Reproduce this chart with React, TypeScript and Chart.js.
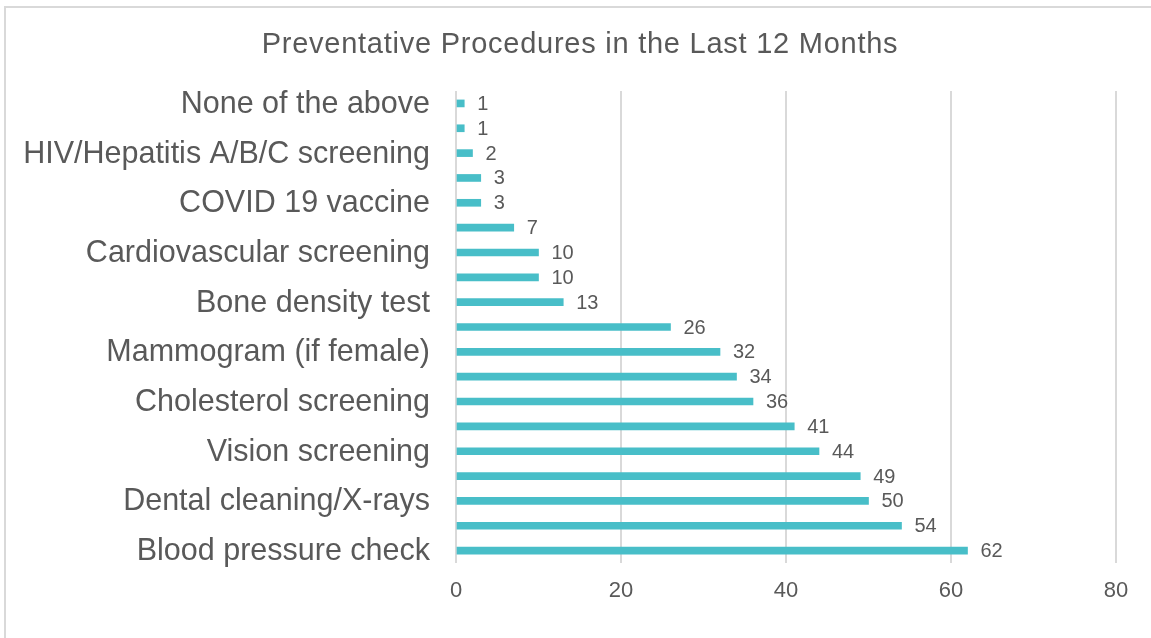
import React, { useEffect, useRef } from "react";
import { Chart, registerables } from "chart.js";

Chart.register(...registerables);

const title = "Preventative Procedures in the Last 12 Months";
const categories = [
  "None of the above",
  "",
  "HIV/Hepatitis A/B/C screening",
  "",
  "COVID 19 vaccine",
  "",
  "Cardiovascular screening",
  "",
  "Bone density test",
  "",
  "Mammogram (if female)",
  "",
  "Cholesterol screening",
  "",
  "Vision screening",
  "",
  "Dental cleaning/X-rays",
  "",
  "Blood pressure check",
];
const values = [1, 1, 2, 3, 3, 7, 10, 10, 13, 26, 32, 34, 36, 41, 44, 49, 50, 54, 62];
const xTicks = [0, 20, 40, 60, 80];

const FONT = "'Liberation Sans', Arial, sans-serif";
const TEXT = "#595959";
const GRID = "#d9d9d9";
const BAR = "#48bec8";

const framePlugin = {
  id: "frame",
  beforeDraw(chart: any) {
    const ctx = chart.ctx;
    ctx.save();
    ctx.fillStyle = "#ffffff";
    ctx.fillRect(0, 0, chart.width, chart.height);
    ctx.strokeStyle = GRID;
    ctx.lineWidth = 2;
    ctx.beginPath();
    ctx.moveTo(5, chart.height + 10);
    ctx.lineTo(5, 7);
    ctx.lineTo(chart.width + 10, 7);
    ctx.stroke();
    ctx.restore();
  },
  afterDraw(chart: any) {
    const ctx = chart.ctx;
    ctx.save();
    ctx.fillStyle = TEXT;
    ctx.font = `29px ${FONT}`;
    ctx.textAlign = "center";
    ctx.textBaseline = "middle";
    try { (ctx as any).letterSpacing = "0.75px"; } catch (e) {}
    ctx.fillText(title, 580, 45);
    try { (ctx as any).letterSpacing = "0px"; } catch (e) {}
    ctx.restore();
  },
};

const labelPlugin = {
  id: "barLabels",
  afterDatasetsDraw(chart: any) {
    const ctx = chart.ctx;
    const meta = chart.getDatasetMeta(0);
    ctx.save();
    ctx.fillStyle = TEXT;
    ctx.font = `20px ${FONT}`;
    ctx.textAlign = "left";
    ctx.textBaseline = "middle";
    meta.data.forEach((bar: any, i: number) => {
      ctx.fillText(String(values[i]), bar.x + 13, bar.y + 1);
    });
    ctx.restore();
  },
};

export default function App() {
  const ref = useRef<HTMLCanvasElement>(null);
  useEffect(() => {
    document.body.style.margin = "0";
    const chart = new Chart(ref.current!, {
      type: "bar",
      data: {
        labels: categories,
        datasets: [
          {
            data: values,
            backgroundColor: BAR,
            barThickness: 7,
          },
        ],
      },
      options: {
        indexAxis: "y",
        animation: false,
        responsive: false,
        layout: { padding: { top: 91, right: 35, bottom: 0, left: 0 } },
        plugins: {
          legend: { display: false },
          title: { display: false },
          tooltip: { enabled: false },
        },
        scales: {
          x: {
            min: 0,
            max: 80,
            afterBuildTicks(scale: any) {
              scale.ticks = xTicks.map((v) => ({ value: v }));
            },
            afterFit(scale: any) {
              scale.height = 638 - 91 - 472;
            },
            grid: { color: GRID, lineWidth: 2, drawTicks: false },
            border: { display: false },
            ticks: {
              color: TEXT,
              font: { family: FONT, size: 22 },
              padding: 15,
            },
          },
          y: {
            afterFit(scale: any) {
              scale.width = 456;
            },
            grid: { display: false, drawTicks: false },
            border: { display: false },
            ticks: {
              autoSkip: false,
              color: TEXT,
              font: { family: FONT, size: 30.5 },
              padding: 26,
              labelOffset: 1,
            },
          },
        },
      },
      plugins: [framePlugin, labelPlugin],
    });
    return () => chart.destroy();
  }, []);
  return <canvas ref={ref} width={1151} height={638} style={{ display: "block" }} />;
}
